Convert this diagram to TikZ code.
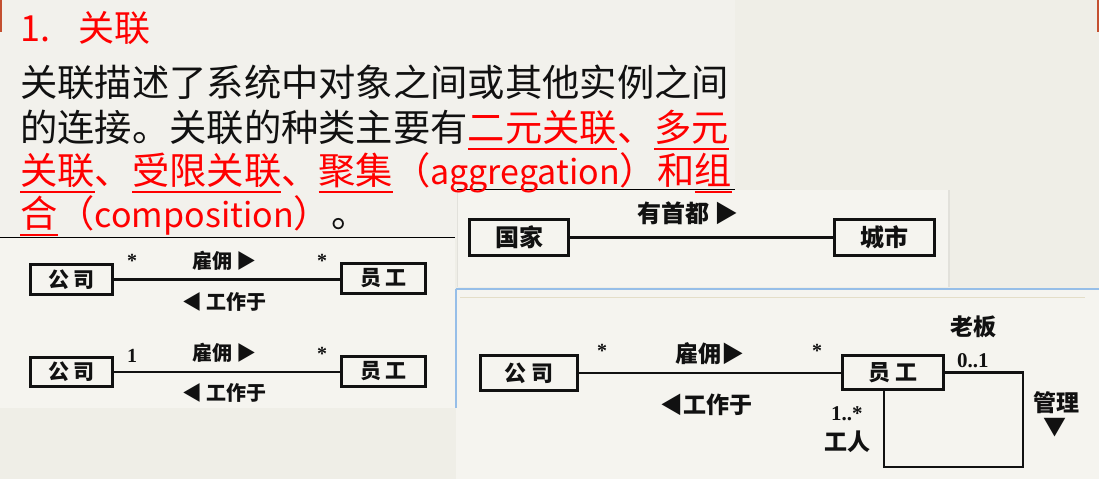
\documentclass[tikz,border=0pt]{standalone}
\usepackage{fontspec}
\setmainfont{Noto Sans CJK SC}
\newfontfamily\numfont{Liberation Serif}
\usetikzlibrary{calc}

\definecolor{slidebg}{RGB}{239,238,231}
\definecolor{textbg}{RGB}{242,241,236}
\definecolor{panelbg}{RGB}{245,244,239}
\definecolor{accent}{RGB}{196,80,48}
\definecolor{edgeblue}{RGB}{150,190,232}
\definecolor{paleline}{RGB}{228,222,200}
\definecolor{shade}{RGB}{214,213,207}
\definecolor{softshade}{RGB}{226,225,219}
\definecolor{hlred}{RGB}{255,0,0}
\definecolor{ink}{RGB}{17,17,17}

% underline drawn as a thick rule below the glyphs
\newsavebox\ulbox
\newcommand\ulx[1]{\sbox\ulbox{#1}\rlap{\rule[-9pt]{\wd\ulbox}{2.5pt}}\usebox\ulbox}
% Latin words inside the paragraph are set a little smaller
\newcommand\lat[1]{{\fontsize{34}{40}\selectfont #1}}

\tikzset{
  para/.style={anchor=base west, inner sep=0pt, text=ink, font=\fontsize{37.3}{44}\selectfont},
  cls/.style={draw=ink, line width=2.6pt, inner sep=0pt, text=ink},
  lbl/.style={anchor=base west, inner sep=0pt, text=ink, font=\bfseries\fontsize{20}{24}\selectfont},
  biglbl/.style={lbl, font=\bfseries\fontsize{23}{26}\selectfont},
  mult/.style={anchor=base, inner sep=0pt, text=ink, font=\numfont\bfseries\fontsize{20}{22}\selectfont},
  assoc/.style={draw=ink, line width=2.6pt},
}

\begin{document}
\begin{tikzpicture}[x=1pt,y=-1pt]
\useasboundingbox (0,0) rectangle (1099,479);

% slide and panel backgrounds
\fill[slidebg] (0,0) rectangle (1099,479);
\fill[textbg] (0,0) rectangle (735,237);
\fill[accent] (0,0) rectangle (2,32);
\fill[accent] (1097,0) rectangle (1099,32);

\fill[panelbg] (456,289) rectangle (1099,479);
\draw[edgeblue, line width=2pt] (456,289) -- (1099,289);
\draw[edgeblue, line width=1.5pt] (456,289) -- (456,408);
\draw[paleline, line width=1pt] (460,297.5) -- (1085,297.5);

\fill[panelbg] (0,238) rectangle (455,408);
\draw[shade, line width=1pt] (0,237.5) -- (455,237.5);

\fill[panelbg] (457,190) rectangle (948,287);
\draw[shade, line width=1pt] (457,189.5) -- (735,189.5);
\draw[softshade, line width=1pt] (457.5,190) -- (457.5,287);
\draw[softshade, line width=2pt] (949,190) -- (949,287);

% heading and paragraph
\node[para, text=hlred, font=\fontsize{36}{42}\selectfont] (title) at (20,41.7) {\makebox[58pt][l]{1.}关联};
\node[para] (l1) at (20,96.2) {关联描述了系统中对象之间或其他实例之间};
\node[para] (l2) at (20,141.2) {的连接。关联的种类主要有{\color{hlred}\ulx{二元关联}、\ulx{多元}}};
\node[para, text=hlred] (l3) at (20,184.2) {\ulx{关联}、\ulx{受限关联}、\ulx{聚集}（\lat{aggregation}）和\ulx{组}};
\node[para] (l4) at (20,227.2) {{\color{hlred}\ulx{合}（\lat{composition}）}。};

% many-to-many association
\node[cls, minimum width=82.4pt, minimum height=30.4pt, font=\bfseries\fontsize{21}{24}\selectfont] (gs1) at (71.5,279.5) {公 司};
\node[cls, minimum width=84.4pt, minimum height=30.4pt, font=\bfseries\fontsize{21}{24}\selectfont] (yg1) at (383.5,278.5) {员 工};
\draw[assoc] (gs1.east) -- (gs1.east -| yg1.west);
\node[mult] (m1a) at (132,267) {*};
\node[mult] (m1b) at (322,267) {*};
\node[lbl] (r1a) at (192,268.6) {雇佣 ▶};
\node[lbl] (r1b) at (182,309.6) {◀ 工作于};

% one-to-many association
\node[cls, minimum width=82.4pt, minimum height=29.4pt, font=\bfseries\fontsize{21}{24}\selectfont] (gs2) at (71.5,372) {公 司};
\node[cls, minimum width=84.4pt, minimum height=30.4pt, font=\bfseries\fontsize{21}{24}\selectfont] (yg2) at (383.5,371.5) {员 工};
\draw[assoc] (gs2.east) -- (gs2.east -| yg2.west);
\node[mult] (m2a) at (132,362) {1};
\node[mult] (m2b) at (322,360) {*};
\node[lbl] (r2a) at (192,360.6) {雇佣 ▶};
\node[lbl] (r2b) at (182,400.6) {◀ 工作于};

% country and capital
\node[cls, minimum width=99.4pt, minimum height=36.4pt, font=\bfseries\fontsize{24}{26}\selectfont] (gj) at (519,237.5) {国家};
\node[cls, minimum width=100.4pt, minimum height=36.4pt, font=\bfseries\fontsize{24}{26}\selectfont] (cs) at (884.5,237.5) {城市};
\draw[assoc] (gj.east) -- (gj.east -| cs.west);
\node[lbl, font=\bfseries\fontsize{24}{26}\selectfont] (cap) at (637,222) {有首都 ▶};

% company, employee and the self association
\node[cls, minimum width=97.4pt, minimum height=35.4pt, font=\bfseries\fontsize{22}{25}\selectfont] (gs3) at (529,373) {公 司};
\node[cls, minimum width=101.4pt, minimum height=34.4pt, font=\bfseries\fontsize{22}{25}\selectfont] (yg3) at (893,372.5) {员 工};
\draw[assoc] (gs3.east) -- (gs3.east -| yg3.west);
\coordinate (loopc) at (1023,467);
\coordinate (loopb) at (884,467);
\draw[assoc] (yg3.east) -| (loopc) -- (loopb) -- (loopb |- yg3.south);
\node[mult] (m3a) at (602,357) {*};
\node[mult] (m3b) at (817,357) {*};
\node[biglbl] (r3a) at (675,362.7) {雇佣▶};
\node[biglbl] (r3b) at (660,413.7) {◀工作于};
\node[biglbl] (boss) at (950,335.7) {老板};
\node[mult, anchor=base west, font=\numfont\bfseries\fontsize{21}{23}\selectfont] (m3c) at (957,367) {0..1};
\node[mult, anchor=base west, font=\numfont\bfseries\fontsize{21}{23}\selectfont] (m3d) at (831,420) {1..*};
\node[biglbl] (wrk) at (824,450.7) {工人};
\node[biglbl] (mgr) at (1033,411.7) {管理};
\node[anchor=base, inner sep=0pt, text=ink, font=\bfseries\fontsize{23}{26}\selectfont] (mgrarrow) at (1055,435.7) {▼};
\end{tikzpicture}
\end{document}
